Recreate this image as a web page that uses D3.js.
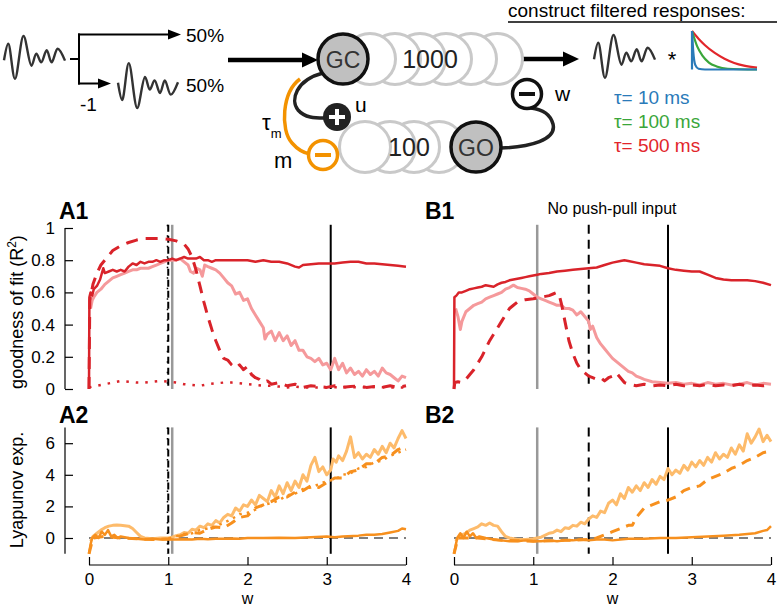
<!DOCTYPE html>
<html><head><meta charset="utf-8">
<script src="https://cdn.jsdelivr.net/npm/d3@7"></script>
<style>body{margin:0;background:#fff}svg{display:block;font-family:"Liberation Sans",Arial,Helvetica,sans-serif}</style>
</head><body><svg id="c" width="782" height="607"></svg>
<script>
// ---------- data ----------
const xTicks = [0,1,2,3,4];
const yTicks1 = [0,0.2,0.4,0.6,0.8,1];
const yTickLabels1 = ["0","0.2","0.4","0.6","0.8","1"];
const yTicks2 = [0,2,4,6];
const tauLabels = ["τ= 10 ms","τ= 100 ms","τ= 500 ms"];
const vLinesA = {gray:1.05, dashed:1.0, dotted:0.99, solid:3.05};
const vLinesB = {gray:1.05, dashed:1.70, solid:2.70};

const a1Solid = [[0,0],[0.005,0.57],[0.02,0.6],[0.04,0.58],[0.06,0.62],[0.1,0.64],[0.14,0.68],[0.18,0.75],[0.2,0.72],[0.25,0.73],[0.3,0.74],[0.35,0.73],[0.4,0.74],[0.45,0.73],[0.5,0.76],[0.55,0.78],[0.6,0.77],[0.65,0.79],[0.7,0.78],[0.75,0.79],[0.8,0.79],[0.85,0.8],[0.9,0.79],[0.95,0.8],[1.0,0.8],[1.05,0.81],[1.1,0.8],[1.15,0.81],[1.2,0.82],[1.25,0.81],[1.3,0.81],[1.35,0.81],[1.4,0.82],[1.45,0.8],[1.5,0.8],[1.55,0.79],[1.6,0.8],[1.7,0.8],[1.8,0.8],[1.9,0.8],[2.0,0.8],[2.1,0.79],[2.2,0.8],[2.3,0.79],[2.4,0.79],[2.5,0.78],[2.6,0.76],[2.65,0.755],[2.7,0.77],[2.8,0.775],[2.9,0.78],[3.0,0.78],[3.1,0.78],[3.2,0.785],[3.3,0.79],[3.4,0.79],[3.5,0.78],[3.6,0.78],[3.7,0.775],[3.8,0.77],[3.9,0.765],[4.0,0.76]];
const a1Pink = [[0.02,0.5],[0.04,0.55],[0.06,0.57],[0.1,0.6],[0.15,0.62],[0.2,0.65],[0.25,0.67],[0.3,0.69],[0.35,0.7],[0.4,0.71],[0.45,0.72],[0.5,0.73],[0.55,0.74],[0.6,0.74],[0.65,0.75],[0.7,0.75],[0.75,0.75],[0.8,0.76],[0.85,0.77],[0.9,0.78],[0.95,0.79],[1.0,0.8],[1.05,0.8],[1.1,0.8],[1.15,0.81],[1.2,0.79],[1.25,0.77],[1.28,0.73],[1.32,0.72],[1.36,0.75],[1.4,0.74],[1.43,0.70],[1.46,0.77],[1.5,0.76],[1.55,0.75],[1.6,0.74],[1.65,0.72],[1.7,0.69],[1.75,0.66],[1.8,0.64],[1.85,0.59],[1.9,0.6],[1.95,0.55],[2.0,0.56],[2.05,0.5],[2.1,0.46],[2.15,0.42],[2.2,0.38],[2.22,0.31],[2.25,0.34],[2.3,0.36],[2.35,0.3],[2.4,0.35],[2.45,0.3],[2.5,0.33],[2.55,0.27],[2.6,0.3],[2.65,0.24],[2.7,0.24],[2.75,0.2],[2.8,0.19],[2.85,0.17],[2.9,0.19],[2.95,0.15],[3.0,0.16],[3.05,0.12],[3.1,0.19],[3.15,0.12],[3.2,0.16],[3.25,0.1],[3.3,0.13],[3.35,0.09],[3.4,0.11],[3.45,0.08],[3.5,0.12],[3.55,0.09],[3.6,0.11],[3.65,0.08],[3.7,0.13],[3.75,0.1],[3.8,0.09],[3.85,0.07],[3.9,0.05],[3.95,0.08],[4.0,0.07]];
const a1Dashed = [[0,0],[0.01,0.55],[0.05,0.65],[0.1,0.72],[0.15,0.77],[0.2,0.8],[0.25,0.83],[0.3,0.86],[0.4,0.89],[0.5,0.91],[0.6,0.925],[0.7,0.935],[0.8,0.935],[0.9,0.935],[1.0,0.93],[1.1,0.92],[1.2,0.9],[1.25,0.87],[1.3,0.82],[1.35,0.74],[1.4,0.64],[1.45,0.54],[1.5,0.45],[1.55,0.37],[1.6,0.3],[1.65,0.24],[1.7,0.19],[1.75,0.18],[1.8,0.15],[1.85,0.13],[1.9,0.15],[1.95,0.12],[2.0,0.14],[2.05,0.09],[2.1,0.07],[2.15,0.06],[2.2,0.04],[2.25,0.05],[2.3,0.03],[2.4,0.04],[2.5,0.02],[2.6,0.03],[2.7,0.01],[2.8,0.02],[2.9,0.015],[3.0,0.01],[3.1,0.02],[3.2,0.01],[3.3,0.015],[3.4,0.02],[3.5,0.01],[3.6,0.015],[3.7,0.01],[3.8,0.02],[3.9,0.01],[4.0,0.02]];
const a1Dotted = [[0,0.01],[0.1,0.02],[0.2,0.03],[0.3,0.04],[0.4,0.05],[0.5,0.045],[0.6,0.04],[0.7,0.04],[0.8,0.045],[0.9,0.05],[1.0,0.045],[1.1,0.04],[1.2,0.03],[1.3,0.025],[1.4,0.02],[1.5,0.03],[1.6,0.035],[1.7,0.04],[1.8,0.04],[1.9,0.035],[2.0,0.03],[2.1,0.025],[2.2,0.02],[2.3,0.02],[2.4,0.015],[2.5,0.01],[2.6,0.015],[2.7,0.01],[2.8,0.01],[3.0,0.01],[3.2,0.012],[3.4,0.01],[3.6,0.012],[3.8,0.01],[4.0,0.01]];

const b1Solid = [[0,0],[0.005,0.57],[0.03,0.58],[0.06,0.6],[0.1,0.6],[0.15,0.61],[0.2,0.62],[0.25,0.625],[0.3,0.63],[0.35,0.635],[0.4,0.645],[0.45,0.64],[0.5,0.635],[0.55,0.65],[0.6,0.66],[0.65,0.665],[0.7,0.675],[0.75,0.68],[0.8,0.685],[0.85,0.69],[0.9,0.695],[0.95,0.7],[1.0,0.705],[1.05,0.71],[1.1,0.715],[1.2,0.72],[1.3,0.73],[1.4,0.735],[1.5,0.74],[1.6,0.745],[1.7,0.75],[1.8,0.755],[1.9,0.77],[2.0,0.785],[2.1,0.795],[2.15,0.8],[2.2,0.795],[2.3,0.785],[2.4,0.775],[2.5,0.77],[2.6,0.765],[2.7,0.75],[2.8,0.74],[2.9,0.735],[3.0,0.73],[3.1,0.73],[3.2,0.71],[3.3,0.69],[3.4,0.68],[3.5,0.675],[3.6,0.675],[3.7,0.675],[3.8,0.67],[3.9,0.66],[4.0,0.645]];
const b1Pink = [[0.02,0.5],[0.05,0.45],[0.08,0.37],[0.1,0.42],[0.15,0.48],[0.2,0.5],[0.25,0.52],[0.3,0.53],[0.35,0.54],[0.4,0.56],[0.45,0.57],[0.5,0.58],[0.55,0.59],[0.6,0.6],[0.65,0.62],[0.7,0.63],[0.75,0.645],[0.8,0.63],[0.85,0.625],[0.9,0.62],[0.95,0.61],[1.0,0.59],[1.05,0.57],[1.1,0.56],[1.15,0.55],[1.2,0.54],[1.25,0.53],[1.3,0.52],[1.35,0.52],[1.4,0.5],[1.45,0.5],[1.5,0.49],[1.55,0.46],[1.6,0.48],[1.65,0.45],[1.7,0.42],[1.72,0.37],[1.75,0.39],[1.8,0.32],[1.85,0.28],[1.9,0.25],[1.95,0.22],[2.0,0.19],[2.05,0.17],[2.1,0.15],[2.15,0.13],[2.2,0.11],[2.25,0.1],[2.3,0.08],[2.35,0.07],[2.4,0.06],[2.5,0.045],[2.6,0.04],[2.7,0.035],[2.8,0.04],[2.9,0.03],[3.0,0.035],[3.1,0.025],[3.2,0.04],[3.3,0.03],[3.4,0.035],[3.5,0.025],[3.6,0.03],[3.7,0.04],[3.8,0.025],[3.9,0.035],[4.0,0.03]];
const b1Dashed = [[0,0],[0.01,0.04],[0.05,0.045],[0.1,0.04],[0.15,0.06],[0.2,0.09],[0.25,0.12],[0.3,0.16],[0.35,0.2],[0.4,0.25],[0.45,0.3],[0.5,0.34],[0.55,0.38],[0.6,0.42],[0.65,0.46],[0.7,0.5],[0.75,0.52],[0.8,0.54],[0.85,0.55],[0.9,0.555],[1.0,0.56],[1.1,0.57],[1.2,0.58],[1.25,0.59],[1.3,0.6],[1.33,0.58],[1.36,0.52],[1.4,0.42],[1.45,0.3],[1.5,0.22],[1.55,0.16],[1.6,0.12],[1.65,0.1],[1.7,0.08],[1.75,0.07],[1.8,0.06],[1.85,0.07],[1.9,0.05],[1.95,0.07],[2.0,0.08],[2.05,0.1],[2.1,0.07],[2.15,0.04],[2.2,0.03],[2.3,0.02],[2.4,0.03],[2.5,0.02],[2.6,0.025],[2.7,0.02],[2.8,0.03],[2.9,0.02],[3.0,0.025],[3.1,0.02],[3.2,0.03],[3.3,0.02],[3.4,0.025],[3.5,0.02],[3.6,0.03],[3.7,0.02],[3.8,0.025],[3.9,0.02],[4.0,0.025]];

const a2Solid = [[0,-1],[0.02,-0.4],[0.04,0],[0.08,0.2],[0.12,0],[0.16,0.4],[0.2,0.2],[0.24,0.5],[0.28,0.1],[0.32,0.2],[0.36,0],[0.4,0.1],[0.5,0],[0.6,-0.05],[0.7,-0.1],[0.8,-0.05],[0.9,-0.1],[1.0,-0.1],[1.1,-0.1],[1.2,-0.08],[1.3,-0.1],[1.4,-0.05],[1.5,-0.08],[1.6,-0.05],[1.7,-0.05],[1.8,-0.03],[1.9,-0.05],[2.0,0],[2.2,0],[2.4,0.02],[2.6,0],[2.8,0.05],[3.0,0.1],[3.1,0.05],[3.2,0.1],[3.4,0.15],[3.5,0.2],[3.6,0.2],[3.7,0.25],[3.8,0.35],[3.9,0.45],[3.95,0.6],[4.0,0.55]];
const a2Light = [[0.02,-0.2],[0.05,0.1],[0.1,0.3],[0.15,0.5],[0.2,0.65],[0.25,0.75],[0.3,0.8],[0.35,0.82],[0.4,0.8],[0.45,0.78],[0.5,0.75],[0.55,0.6],[0.6,0.35],[0.65,0.1],[0.7,0],[0.8,-0.05],[0.9,0],[1.0,0],[1.05,0.05],[1.1,0.15],[1.15,0.2],[1.2,0.35],[1.25,0.3],[1.3,0.55],[1.35,0.5],[1.4,0.75],[1.45,0.65],[1.5,0.9],[1.55,0.8],[1.6,1.1],[1.65,0.95],[1.7,1.3],[1.75,1.5],[1.8,1.4],[1.85,1.9],[1.9,1.7],[1.95,2.1],[2.0,2.0],[2.05,2.4],[2.1,2.1],[2.15,2.7],[2.2,2.5],[2.25,2.3],[2.3,3.0],[2.35,2.6],[2.4,3.3],[2.45,2.8],[2.5,3.5],[2.55,3.0],[2.6,3.6],[2.65,3.2],[2.7,4.0],[2.75,3.6],[2.8,4.6],[2.85,5.1],[2.9,4.2],[2.95,4.5],[3.0,4.0],[3.05,4.3],[3.08,5.0],[3.12,4.8],[3.15,5.2],[3.2,4.9],[3.25,5.5],[3.3,6.4],[3.35,5.1],[3.4,5.4],[3.45,5.0],[3.5,5.3],[3.55,5.1],[3.6,5.6],[3.65,5.3],[3.7,5.8],[3.75,5.4],[3.8,6.0],[3.85,5.7],[3.9,6.3],[3.95,6.8],[4.0,6.3]];
const a2Dashed = [[0,-1],[0.05,0],[0.2,0.1],[0.4,0],[0.6,-0.05],[0.8,-0.1],[1.0,-0.05],[1.1,0.05],[1.2,0.2],[1.3,0.35],[1.4,0.3],[1.5,0.55],[1.6,0.7],[1.7,0.65],[1.8,0.95],[1.9,1.3],[2.0,1.4],[2.1,1.9],[2.2,2.1],[2.3,2.3],[2.4,2.6],[2.5,2.6],[2.6,2.9],[2.7,3.0],[2.8,3.3],[2.9,3.2],[3.0,3.5],[3.1,3.8],[3.2,3.8],[3.3,4.2],[3.4,4.3],[3.5,4.7],[3.6,4.7],[3.7,5.1],[3.8,5.2],[3.9,5.6],[4.0,5.8]];
const a2Dotted = [[1.1,0.1],[1.2,0.25],[1.3,0.3],[1.4,0.5],[1.5,0.6],[1.6,0.75],[1.7,0.95],[1.8,1.2],[1.9,1.5],[2.0,1.6],[2.1,1.8],[2.2,2.1],[2.3,2.2],[2.4,2.4],[2.5,2.7],[2.6,2.8],[2.7,3.1],[2.8,3.2],[2.9,3.4],[3.0,3.6],[3.1,3.7],[3.2,4.0],[3.3,4.1],[3.4,4.4],[3.5,4.5],[3.6,4.8],[3.7,4.9],[3.8,5.2],[3.9,5.4],[4.0,5.6]];

const b2Solid = [[0,-1],[0.02,-0.5],[0.04,0],[0.08,0.3],[0.12,0],[0.16,0.4],[0.2,0.1],[0.24,0.3],[0.28,0],[0.32,0.1],[0.4,0],[0.5,-0.1],[0.6,-0.15],[0.7,-0.2],[0.8,-0.2],[0.9,-0.15],[1.0,-0.2],[1.1,-0.2],[1.2,-0.15],[1.3,-0.2],[1.4,-0.15],[1.5,-0.15],[1.6,-0.1],[1.7,-0.15],[1.8,-0.1],[1.9,-0.1],[2.0,-0.15],[2.2,-0.05],[2.4,-0.05],[2.6,0],[2.8,0],[3.0,0.05],[3.2,0.1],[3.4,0.15],[3.6,0.2],[3.7,0.25],[3.8,0.3],[3.9,0.45],[3.95,0.5],[4.0,0.75]];
const b2Light = [[0.02,-0.2],[0.05,0],[0.1,0.2],[0.15,0.3],[0.2,0.5],[0.25,0.6],[0.3,0.7],[0.35,0.9],[0.4,0.8],[0.45,0.95],[0.5,0.8],[0.55,0.75],[0.6,0.4],[0.65,0.1],[0.7,0],[0.8,-0.1],[0.9,-0.1],[1.0,-0.05],[1.1,0.05],[1.2,0.3],[1.25,0.35],[1.3,0.5],[1.35,0.4],[1.4,0.65],[1.45,0.6],[1.5,0.8],[1.55,0.75],[1.6,1.0],[1.65,0.9],[1.7,1.2],[1.75,1.4],[1.8,1.3],[1.85,1.7],[1.9,1.6],[1.95,2.2],[2.0,2.4],[2.05,2.1],[2.1,2.8],[2.15,2.5],[2.2,3.2],[2.25,2.9],[2.3,3.3],[2.35,3.0],[2.4,3.5],[2.45,3.2],[2.5,3.7],[2.55,3.4],[2.6,3.9],[2.65,3.7],[2.7,4.4],[2.75,4.0],[2.8,4.3],[2.85,4.1],[2.9,4.6],[2.95,4.3],[3.0,4.8],[3.05,4.5],[3.1,4.9],[3.15,4.6],[3.2,5.1],[3.25,4.8],[3.3,5.4],[3.35,5.0],[3.4,5.3],[3.45,5.1],[3.5,5.7],[3.55,5.3],[3.6,5.9],[3.65,5.5],[3.7,6.6],[3.75,6.0],[3.8,6.4],[3.85,6.9],[3.9,6.1],[3.95,6.5],[4.0,6.1]];
const b2Dashed = [[0,-1],[0.05,0],[0.3,0],[0.6,-0.15],[1.0,-0.2],[1.4,-0.15],[1.7,-0.1],[1.8,0],[1.9,0.2],[2.0,0.4],[2.1,0.6],[2.2,0.8],[2.25,0.8],[2.3,1.3],[2.35,1.6],[2.4,1.9],[2.45,2.0],[2.5,2.1],[2.6,2.3],[2.7,2.4],[2.8,2.6],[2.9,3.0],[3.0,3.2],[3.1,3.3],[3.2,3.7],[3.3,3.9],[3.4,4.1],[3.5,4.4],[3.6,4.6],[3.7,4.9],[3.8,5.1],[3.9,5.4],[4.0,5.5]];

// icon shapes (schematic)
const wave = [[0,-0.1],[0.07,0.65],[0.18,-0.95],[0.32,1.0],[0.45,-0.35],[0.53,0.2],[0.61,-0.2],[0.7,0.35],[0.78,-0.2],[0.88,0.42],[1,-0.12]];
const kBlue = [[0,1],[0.02,0.45],[0.05,0.12],[0.1,0.02],[0.2,0],[1,0]];
const kGreen = [[0,1],[0.08,0.6],[0.16,0.36],[0.26,0.18],[0.38,0.08],[0.55,0.02],[1,0]];
const kRed = [[0,1],[0.1,0.8],[0.2,0.63],[0.35,0.43],[0.5,0.28],[0.65,0.17],[0.8,0.1],[1,0.05]];

// ---------- colours ----------
const C = {red:"#d9232a", pink:"#f5999b", orange:"#f7901e", lorange:"#fdbb6b", dorange:"#f39200",
  blue:"#2a7ab9", green:"#3aa63a", tred:"#e2262b", gray:"#999999", cgray:"#c9c9c9", fill:"#c0c0c0"};

const svg = d3.select("#c");

// ---------- panels ----------
const xA = d3.scaleLinear([0,4],[89,406]);
const xB = d3.scaleLinear([0,4],[454,771]);
const y1 = d3.scaleLinear([0,1],[389,228]);
const y2 = d3.scaleLinear([0,6],[538,443.2]);

function series(g, x, y, data, color, width, dash){
  g.append("path").datum(data)
   .attr("d", d3.line().x(d=>x(d[0])).y(d=>y(d[1])))
   .attr("fill","none").attr("stroke",color).attr("stroke-width",width)
   .attr("stroke-linejoin","round")
   .attr("stroke-dasharray", dash||null);
}
function vline(g, x, y, w, top, bot, color, width, dash){
  g.append("line").attr("x1",x(w)).attr("x2",x(w)).attr("y1",y(top)).attr("y2",y(bot))
   .attr("stroke",color).attr("stroke-width",width).attr("stroke-dasharray",dash||null);
}
function xAxis(x){
  const g = svg.append("g").attr("transform","translate(0,565)")
    .call(d3.axisBottom(x).tickValues(xTicks).tickSize(-8).tickPadding(8).tickFormat(d3.format("d")));
  g.select(".domain").attr("d",`M${x(0)},0H${x(4)}`).attr("stroke","#000").attr("stroke-width",1.2);
  g.selectAll(".tick line").attr("stroke","#000").attr("stroke-width",1.2);
  g.selectAll("text").attr("font-size",17).attr("font-family","Liberation Sans, Arial, sans-serif").attr("fill","#000");
  svg.append("text").attr("x",(x(0)+x(4))/2).attr("y",604).attr("text-anchor","middle").attr("font-size",16).text("w");
}
function yAxis(y, ticks, fmt, lo, hi){
  const g = svg.append("g").attr("transform","translate(65,0)")
    .call(d3.axisLeft(y).tickValues(ticks).tickSize(-8).tickPadding(10).tickFormat(fmt));
  g.select(".domain").attr("d",`M0,${y(lo)}V${y(hi)}`).attr("stroke","#000").attr("stroke-width",1.2);
  g.selectAll(".tick line").attr("stroke","#000").attr("stroke-width",1.2);
  g.selectAll("text").attr("font-size",17).attr("font-family","Liberation Sans, Arial, sans-serif").attr("fill","#000");
}

// A1
const gA1 = svg.append("g");
vline(gA1,xA,y1,vLinesA.gray,1.02,0,C.gray,2.5);
vline(gA1,xA,y1,vLinesA.dashed,1.02,0,"#000",2,"7,4");
vline(gA1,xA,y1,vLinesA.dotted,1.02,0,"#000",1.5,"1.5,9");
vline(gA1,xA,y1,vLinesA.solid,1.02,0,"#000",2);
series(gA1,xA,y1,a1Dotted,C.red,2.5,"2.5,7");
series(gA1,xA,y1,a1Pink,C.pink,3);
series(gA1,xA,y1,a1Dashed,C.red,3,"12,8");
series(gA1,xA,y1,a1Solid,C.red,2.5);
yAxis(y1,yTicks1,(d,i)=>yTickLabels1[i],0,1);

// B1
const gB1 = svg.append("g");
vline(gB1,xB,y1,vLinesB.gray,1.02,0,C.gray,2.5);
vline(gB1,xB,y1,vLinesB.dashed,1.02,0,"#000",2,"9,6");
vline(gB1,xB,y1,vLinesB.solid,1.02,0,"#000",2);
series(gB1,xB,y1,b1Pink,C.pink,3);
series(gB1,xB,y1,b1Dashed,C.red,3,"12,8");
series(gB1,xB,y1,b1Solid,C.red,2.5);

// A2
const gA2 = svg.append("g");
gA2.append("line").attr("x1",xA(0)).attr("x2",xA(4)).attr("y1",y2(0)).attr("y2",y2(0))
   .attr("stroke","#000").attr("stroke-width",1.2).attr("stroke-dasharray","9,6");
vline(gA2,xA,y2,vLinesA.gray,7,-1,C.gray,2.5);
vline(gA2,xA,y2,vLinesA.dashed,7,-1,"#000",2,"7,4");
vline(gA2,xA,y2,vLinesA.dotted,7,-1,"#000",1.5,"1.5,9");
vline(gA2,xA,y2,vLinesA.solid,7,-1,"#000",2);
series(gA2,xA,y2,a2Light,C.lorange,3);
series(gA2,xA,y2,a2Dotted,C.orange,2.5,"2.5,5");
series(gA2,xA,y2,a2Dashed,C.orange,3,"10,7");
series(gA2,xA,y2,a2Solid,C.orange,2.5);
yAxis(y2,yTicks2,d3.format("d"),-1,7);

// B2
const gB2 = svg.append("g");
gB2.append("line").attr("x1",xB(0)).attr("x2",xB(4)).attr("y1",y2(0)).attr("y2",y2(0))
   .attr("stroke","#000").attr("stroke-width",1.2).attr("stroke-dasharray","9,6");
vline(gB2,xB,y2,vLinesB.gray,7,-1,C.gray,2.5);
vline(gB2,xB,y2,vLinesB.dashed,7,-1,"#000",2,"9,6");
vline(gB2,xB,y2,vLinesB.solid,7,-1,"#000",2);
series(gB2,xB,y2,b2Light,C.lorange,3);
series(gB2,xB,y2,b2Dashed,C.orange,3,"10,7");
series(gB2,xB,y2,b2Solid,C.orange,2.5);

xAxis(xA); xAxis(xB);

// labels
const bold = (t,x,y)=>svg.append("text").attr("x",x).attr("y",y).attr("font-size",23).attr("font-weight","bold").text(t);
bold("A1",59,219); bold("B1",425,219); bold("A2",59,423); bold("B2",425,423);
svg.append("text").attr("x",612).attr("y",214).attr("text-anchor","middle").attr("font-size",16).text("No push-pull input");
const yl1 = svg.append("text").attr("transform","translate(23,312) rotate(-90)").attr("text-anchor","middle").attr("font-size",18);
yl1.append("tspan").text("goodness of fit (R");
yl1.append("tspan").attr("dy",-7).attr("font-size",12).text("2");
yl1.append("tspan").attr("dy",7).text(")");
svg.append("text").attr("transform","translate(23,490) rotate(-90)").attr("text-anchor","middle").attr("font-size",18).text("Lyapunov exp.");

// ---------- schematic ----------
function drawWave(x0,x1,yc,amp,sign){
  const sx = d3.scaleLinear([0,1],[x0,x1]);
  const sy = d3.scaleLinear([-1,1],[yc+amp*sign, yc-amp*sign]);
  svg.append("path").datum(wave).attr("d",d3.line().x(d=>sx(d[0])).y(d=>sy(d[1])).curve(d3.curveCatmullRom))
    .attr("fill","none").attr("stroke","#333").attr("stroke-width",2.4);
}
drawWave(4,65,58,22,1);
drawWave(118,178,85,23,-1);
drawWave(594,655,57,22,1);

function arrowHead(xTip,y,len,half){
  svg.append("path").attr("d",`M${xTip},${y}L${xTip-len},${y-half}L${xTip-len},${y+half}Z`).attr("fill","#000");
}
const ln = (x1,y1_,x2,y2_,w)=>svg.append("line").attr("x1",x1).attr("y1",y1_).attr("x2",x2).attr("y2",y2_).attr("stroke","#000").attr("stroke-width",w);
ln(70,59,79,59,2); ln(79,33.5,79,84.5,2);
ln(78,34.5,170,34.5,2); arrowHead(181,34.5,13,5);
ln(78,83.5,100,83.5,2); arrowHead(111,83.5,13,5);
svg.append("text").attr("x",186).attr("y",42).attr("font-size",19).text("50%");
svg.append("text").attr("x",186).attr("y",92).attr("font-size",19).text("50%");
svg.append("text").attr("x",80).attr("y",111).attr("font-size",19).text("-1");

// big arrows
ln(228,60,305,60,4.5); arrowHead(318,60,16,7.5);
ln(522,59,565,59,4.5); arrowHead(579,59,16,7.5);

// connection curves
svg.append("path").attr("d","M501,148 C530,147 557,140 553,124 C550,113 540,109 531,108").attr("fill","none").attr("stroke","#222").attr("stroke-width",3.5);
svg.append("path").attr("d","M323,73 C296,80 290,100 298,110 C305,118 315,118 324,118").attr("fill","none").attr("stroke","#222").attr("stroke-width",3.5);
svg.append("path").attr("d","M300,79 C282,92 280,130 292,143 C298,150 304,153 310,154").attr("fill","none").attr("stroke",C.dorange).attr("stroke-width",3.5);

// circle chains
const topRow = [497,471,446,420,395,370];
topRow.forEach(cx=>svg.append("circle").attr("cx",cx).attr("cy",59).attr("r",25.5).attr("fill","#fff").attr("stroke",C.cgray).attr("stroke-width",3));
const botRow = [439,414,390,365];
botRow.forEach(cx=>svg.append("circle").attr("cx",cx).attr("cy",147).attr("r",25.5).attr("fill","#fff").attr("stroke",C.cgray).attr("stroke-width",3));
svg.append("text").attr("x",430).attr("y",68).attr("text-anchor","middle").attr("font-size",25).attr("fill","#222").text("1000");
svg.append("text").attr("x",409).attr("y",156).attr("text-anchor","middle").attr("font-size",25).attr("fill","#222").text("100");
// GC / GO
[[343,59,"GC"],[476,147,"GO"]].forEach(([cx,cy,t])=>{
  svg.append("circle").attr("cx",cx).attr("cy",cy).attr("r",25).attr("fill",C.fill).attr("stroke","#111").attr("stroke-width",3.5);
  svg.append("text").attr("x",cx).attr("y",cy+8.5).attr("text-anchor","middle").attr("font-size",23).attr("fill","#333").text(t);
});
// + u
svg.append("circle").attr("cx",337).attr("cy",117).attr("r",14).attr("fill","#222");
svg.append("path").attr("d","M329,117H345M337,109V125").attr("stroke","#fff").attr("stroke-width",4);
svg.append("text").attr("x",355).attr("y",112).attr("font-size",21).text("u");
// - m
svg.append("circle").attr("cx",323).attr("cy",155).attr("r",14.5).attr("fill","#fff").attr("stroke",C.dorange).attr("stroke-width",3.5);
svg.append("path").attr("d","M315,155H331").attr("stroke",C.dorange).attr("stroke-width",4);
svg.append("text").attr("x",274).attr("y",168).attr("font-size",22).text("m");
const tm = svg.append("text").attr("x",262).attr("y",130).attr("font-size",22);
tm.append("tspan").text("τ"); tm.append("tspan").attr("dy",8).attr("font-size",13).text("m");
// - w
svg.append("circle").attr("cx",527).attr("cy",94).attr("r",14.5).attr("fill","#fff").attr("stroke","#111").attr("stroke-width",3.5);
svg.append("path").attr("d","M519,94H535").attr("stroke","#111").attr("stroke-width",4);
svg.append("text").attr("x",555).attr("y",101).attr("font-size",21).text("w");

// filtered responses
svg.append("text").attr("x",508).attr("y",17).attr("font-size",19).text("construct filtered responses:");
svg.append("line").attr("x1",508).attr("x2",777).attr("y1",22).attr("y2",22).attr("stroke","#000").attr("stroke-width",1.3);
svg.append("text").attr("x",672).attr("y",67).attr("text-anchor","middle").attr("font-size",22).text("*");
const kx = d3.scaleLinear([0,1],[692,757]);
const ky = d3.scaleLinear([0,1],[69.5,31]);
[[kRed,C.tred],[kGreen,C.green],[kBlue,C.blue]].forEach(([k,c])=>{
  svg.append("path").datum(k).attr("d",d3.line().x(d=>kx(d[0])).y(d=>ky(d[1])).curve(d3.curveMonotoneX))
    .attr("fill","none").attr("stroke",c).attr("stroke-width",2.2);
});
svg.append("path").attr("d",`M${kx(0)},${ky(1)}V${ky(0)}`).attr("stroke",C.blue).attr("stroke-width",2.2);
[C.blue,C.green,C.tred].forEach((c,i)=>
  svg.append("text").attr("x",614).attr("y",104+i*24).attr("font-size",19).attr("fill",c).text(tauLabels[i]));
</script></body></html>
